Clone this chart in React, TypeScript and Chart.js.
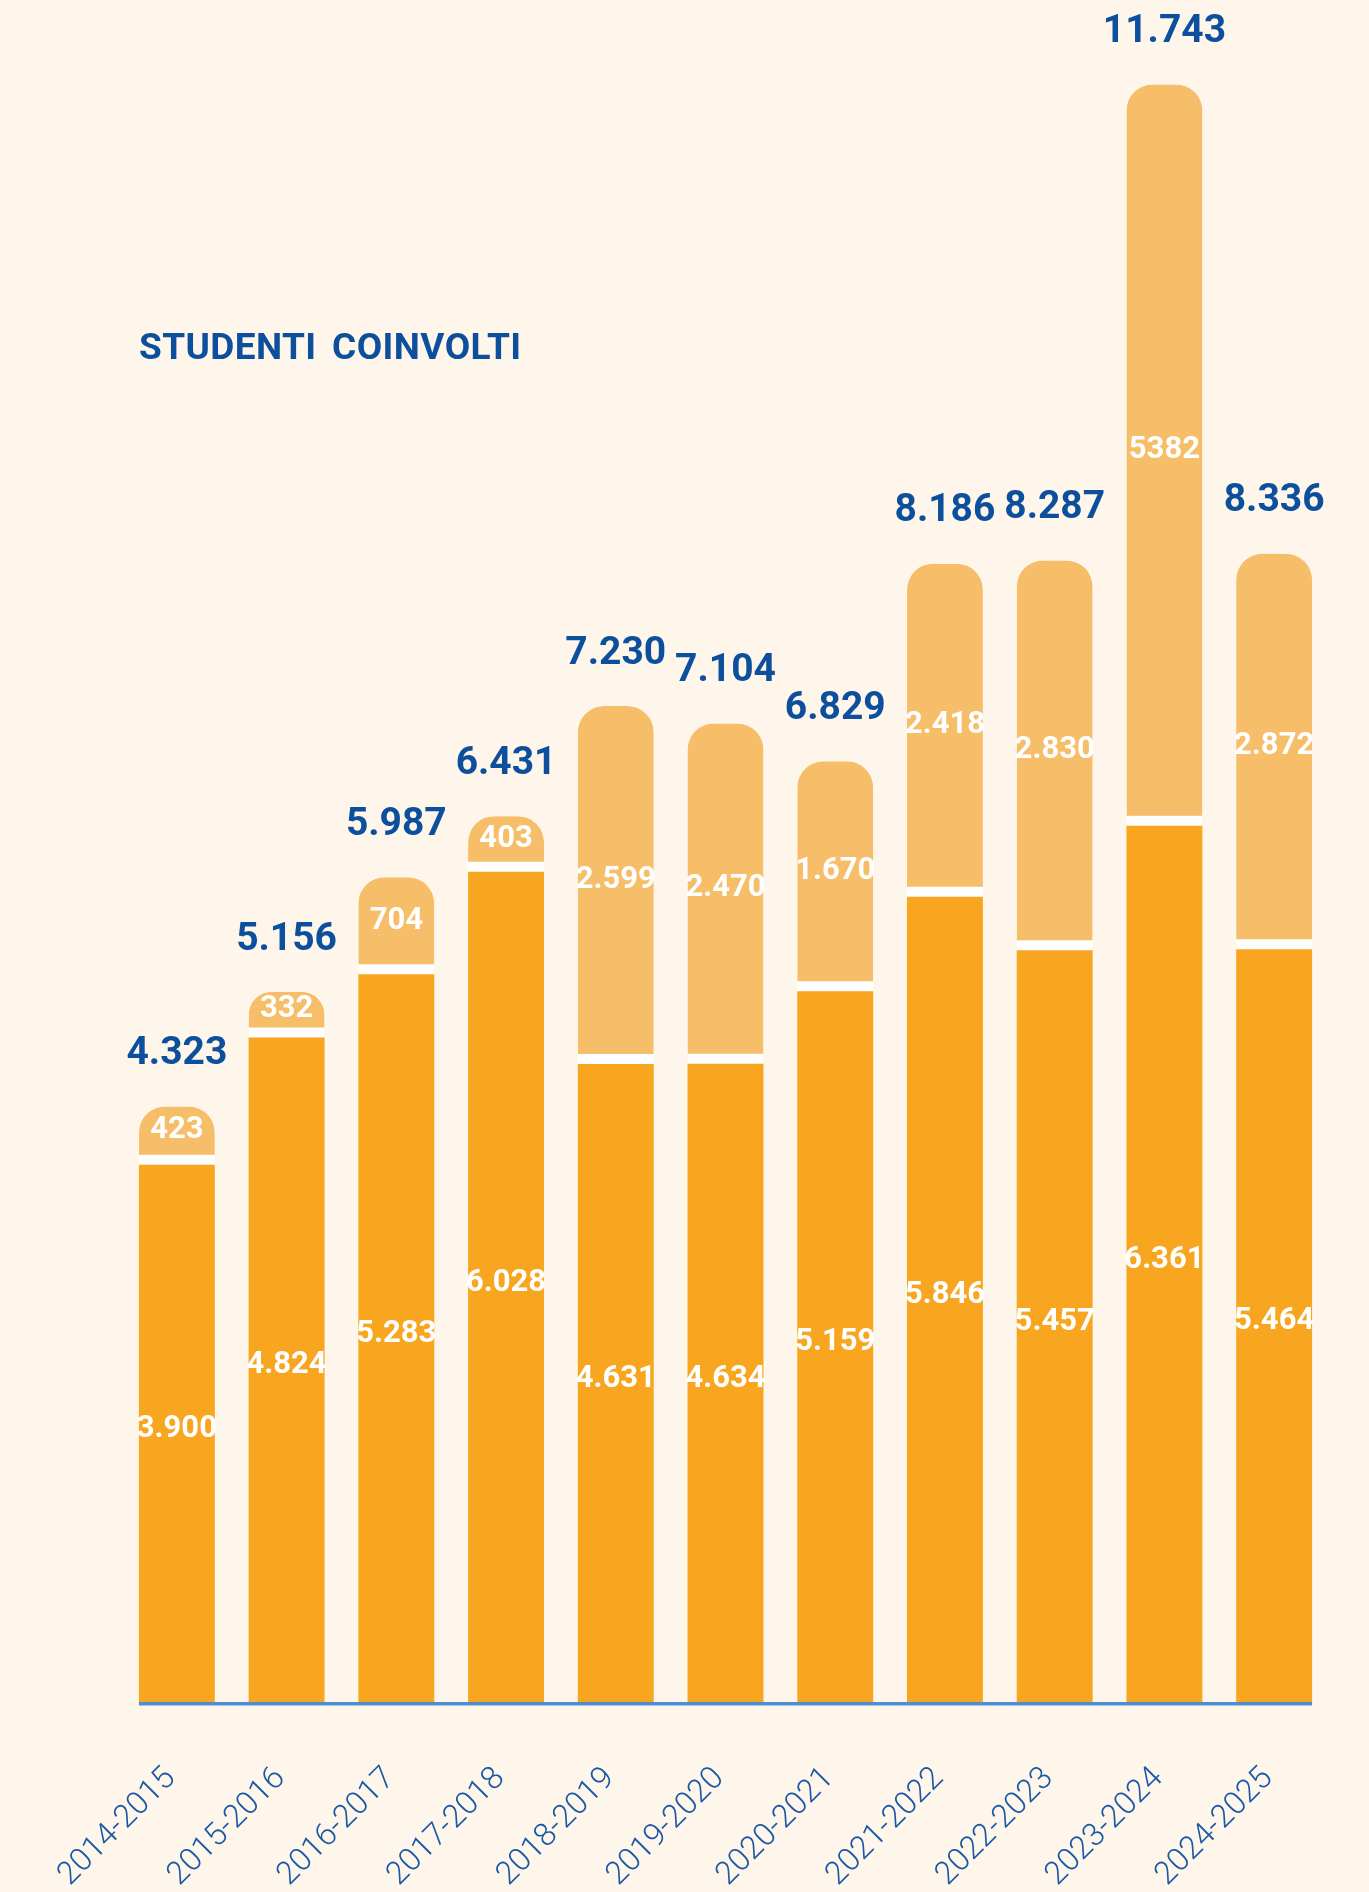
import React, { useEffect, useRef } from "react";
import { Chart, registerables } from "chart.js";

Chart.register(...registerables);

const categories = [
  "2014-2015", "2015-2016", "2016-2017", "2017-2018", "2018-2019", "2019-2020",
  "2020-2021", "2021-2022", "2022-2023", "2023-2024", "2024-2025",
];
const baseValues = [3900, 4824, 5283, 6028, 4631, 4634, 5159, 5846, 5457, 6361, 5464];
const extraValues = [423, 332, 704, 403, 2599, 2470, 1670, 2418, 2830, 5382, 2872];
const baseLabels = ["3.900", "4.824", "5.283", "6.028", "4.631", "4.634", "5.159", "5.846", "5.457", "6.361", "5.464"];
const extraLabels = ["423", "332", "704", "403", "2.599", "2.470", "1.670", "2.418", "2.830", "5382", "2.872"];
const totalLabels = ["4.323", "5.156", "5.987", "6.431", "7.230", "7.104", "6.829", "8.186", "8.287", "11.743", "8.336"];
const titleText = "STUDENTI COINVOLTI";

const BG = "#fef6ea";
const DARK = "#f8a620";
const LIGHT = "#f7be6a";
const BLUE = "#0c4f9d";
const AXIS = "#4d8dd2";
const SEP = 10;

export default function App() {
  const ref = useRef<HTMLCanvasElement | null>(null);

  useEffect(() => {
    document.body.style.margin = "0";
    document.body.style.background = BG;
    const canvas = ref.current;
    if (!canvas) return;

    const labelsPlugin = {
      id: "customLabels",
      beforeDraw(chart: any) {
        const { ctx, width, height } = chart;
        ctx.save();
        ctx.fillStyle = BG;
        ctx.fillRect(0, 0, width, height);
        ctx.restore();
      },
      afterDatasetsDraw(chart: any) {
        const { ctx, chartArea } = chart;
        const m0 = chart.getDatasetMeta(0);
        const m1 = chart.getDatasetMeta(1);
        ctx.save();
        // axis line
        const first = m0.data[0];
        const last = m0.data[m0.data.length - 1];
        ctx.fillStyle = AXIS;
        ctx.fillRect(first.x - first.width / 2, chartArea.bottom, last.x + last.width / 2 - (first.x - first.width / 2), 3.5);

        ctx.textAlign = "center";
        ctx.textBaseline = "middle";
        ctx.font = "bold 31px Roboto";
        ctx.fillStyle = "#ffffff";
        m0.data.forEach((el: any, i: number) => {
          ctx.fillText(baseLabels[i], el.x, (el.y + el.base) / 2 - 4);
        });
        m1.data.forEach((el: any, i: number) => {
          ctx.fillText(extraLabels[i], el.x, (el.y + el.base - SEP) / 2);
        });
        ctx.font = "bold 39px Roboto";
        ctx.fillStyle = BLUE;
        m1.data.forEach((el: any, i: number) => {
          ctx.fillText(totalLabels[i], el.x, el.y - 52);
        });

        ctx.textAlign = "left";
        ctx.textBaseline = "alphabetic";
        ctx.font = "bold 37px Roboto";
        try {
          (ctx as any).letterSpacing = "0.4px";
          (ctx as any).wordSpacing = "6px";
        } catch (e) {}
        ctx.fillText(titleText, 139, 359);
        ctx.restore();
      },
    };

    const chart = new Chart(canvas, {
      type: "bar",
      data: {
        labels: categories,
        datasets: [
          {
            data: baseValues,
            backgroundColor: DARK,
            borderWidth: 0,
            borderRadius: 0,
          },
          {
            data: extraValues,
            backgroundColor: LIGHT,
            borderColor: "#ffffff",
            borderWidth: { top: 0, left: 0, right: 0, bottom: SEP },
            borderSkipped: false,
            borderRadius: { topLeft: 26, topRight: 26, bottomLeft: 0, bottomRight: 0 },
          },
        ],
      },
      options: {
        animation: false,
        responsive: true,
        maintainAspectRatio: false,
        layout: { padding: { top: 49, left: 122, right: 40, bottom: 0 } },
        datasets: { bar: { categoryPercentage: 1, barPercentage: 0.692 } },
        plugins: {
          legend: { display: false },
          tooltip: { enabled: false },
          title: { display: false },
        },
        scales: {
          x: {
            stacked: true,
            grid: { display: false, drawTicks: false },
            border: { display: false },
            afterFit(scale: any) {
              scale.height = 190;
            },
            ticks: {
              maxRotation: 45,
              minRotation: 45,
              padding: 58,
              labelOffset: -6,
              color: "#1a58a6",
              font: { family: "Roboto", size: 32, weight: "300" },
            },
          },
          y: {
            stacked: true,
            display: false,
            min: 0,
            max: 12000,
          },
        },
      },
      plugins: [labelsPlugin],
    });
    return () => chart.destroy();
  }, []);

  return (
    <div style={{ width: 1369, height: 1892, position: "relative", background: BG }}>
      <canvas ref={ref} />
    </div>
  );
}
